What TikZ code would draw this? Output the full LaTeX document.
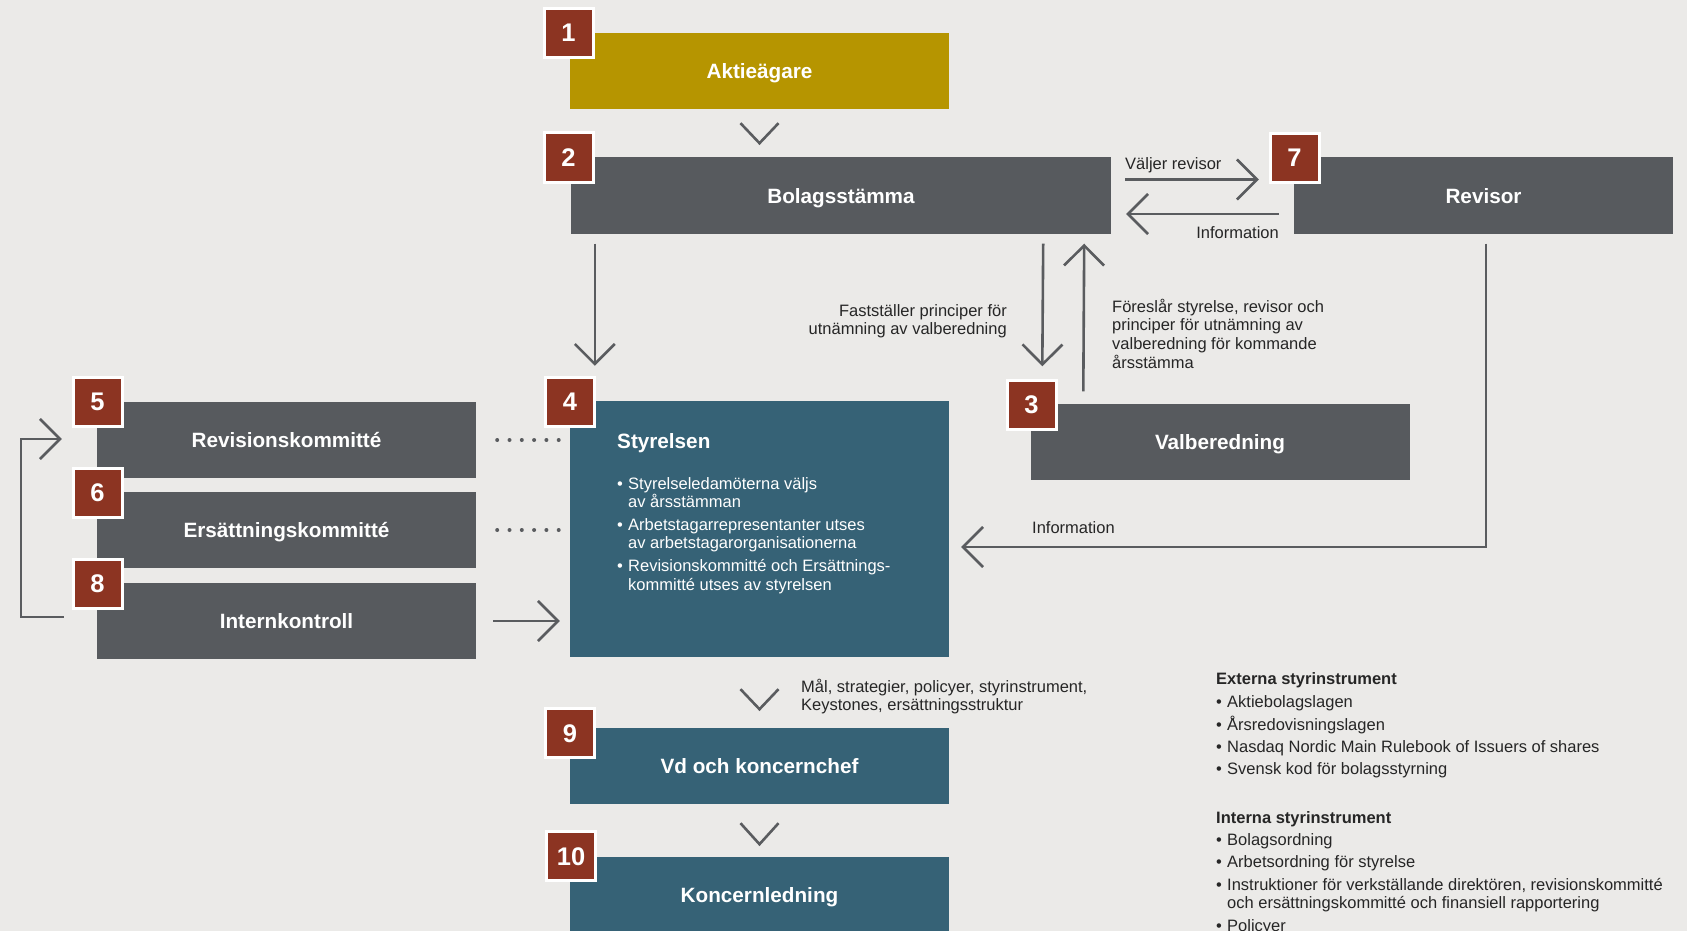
\documentclass[tikz,border=0pt]{standalone}
\usepackage{fontspec}
\setmainfont{Liberation Sans}
\usetikzlibrary{arrows.meta,calc}
\definecolor{bg}{HTML}{EBEAE8}
\definecolor{gold}{HTML}{B69500}
\definecolor{dgrey}{HTML}{575A5E}
\definecolor{tealbox}{HTML}{366276}
\definecolor{badgered}{HTML}{8C3422}
\definecolor{linecol}{HTML}{5A5C5F}
\definecolor{txt}{HTML}{262626}
\newcommand\mybul{\makebox[11pt][l]{•}}
\begin{document}
\begin{tikzpicture}[x=1pt,y=-1pt,
  box/.style={inner sep=0pt, minimum width=379pt, minimum height=76pt, text=white,
    font=\fontsize{20.7}{24}\selectfont\bfseries, text height=15pt, text depth=0pt},
  badge/.style={fill=badgered, draw=white, line width=3pt, minimum size=49pt, inner sep=0pt,
    text=white, font=\fontsize{25.5}{28}\selectfont\bfseries, text height=18pt, text depth=0pt},
  conn/.style={draw=linecol, line width=2.6pt},
  arr/.style={conn, -{Straight Barb[length=20pt,width=40pt]}},
  lbl/.style={inner sep=0pt, text=txt, font=\fontsize{16.5}{18.7}\selectfont},
  dots/.style={draw=linecol, line width=4pt, line cap=round, dash pattern=on 0pt off 12.3pt},
]
\fill[bg] (0,0) rectangle (1687,931);
\useasboundingbox (0,0) rectangle (1687,931);

% boxes
\node[box, fill=gold] (akt) at (759.5,71) {Aktieägare};
\node[box, fill=dgrey, minimum width=540pt] (bol) at (841,195.5) {Bolagsstämma};
\node[box, fill=dgrey] (revi) at (1483.5,195.5) {Revisor};
\node[box, fill=dgrey] (val) at (1220,441.5) {Valberedning};
\node[box, fill=tealbox, minimum height=256pt] (sty) at (759.5,529) {};
\node[box, fill=dgrey] (revk) at (286.5,440) {Revisionskommitté};
\node[box, fill=dgrey] (ers) at (286.5,530) {Ersättningskommitté};
\node[box, fill=dgrey] (int) at (286.5,621) {Internkontroll};
\node[box, fill=tealbox] (vd) at (759.5,766) {Vd och koncernchef};
\node[box, fill=tealbox] (kl) at (759.5,895) {Koncernledning};

% Styrelsen content
\node[anchor=base west, inner sep=0pt, text=white, font=\fontsize{20.7}{24}\selectfont\bfseries] (stytitle) at (617,448.5) {Styrelsen};
\node[lbl, text=white, anchor=base west] (stylist) at (617,489) {\parbox[t]{320pt}{\raggedright
\mybul Styrelseledamöterna väljs\\\hspace*{11pt}av årsstämman\\[3.8pt]
\mybul Arbetstagarrepresentanter utses\\\hspace*{11pt}av arbetstagarorganisationerna\\[3.8pt]
\mybul Revisionskommitté och Ersättnings-\\\hspace*{11pt}kommitté utses av styrelsen}};

% badges
\node[badge] (b1) at (568.5,33) {1};
\node[badge] (b2) at (568.5,157.5) {2};
\node[badge] (b7) at (1294.5,158) {7};
\node[badge] (b3) at (1031.5,404.5) {3};
\node[badge] (b4) at (570,401.5) {4};
\node[badge] (b5) at (97.5,401.5) {5};
\node[badge] (b6) at (97.5,492.5) {6};
\node[badge] (b8) at (97.5,583.5) {8};
\node[badge] (b9) at (570,733) {9};
\node[badge] (b10) at (571,856) {10};

% chevrons
\draw[conn] ($(akt.south)+(-19,14)$) -- ($(akt.south)+(0,34)$) -- ($(akt.south)+(19,14)$);
\draw[conn] ($(sty.south)+(-19,32)$) -- ($(sty.south)+(0,52)$) -- ($(sty.south)+(19,32)$);
\draw[conn] ($(vd.south)+(-19,19)$) -- ($(vd.south)+(0,40)$) -- ($(vd.south)+(19,19)$);

% arrows
\draw[arr] ($(bol.south west)+(24,10)$) -- ($(sty.north west)+(25,-35)$);
\draw[arr] ($(bol.south east)+(-68,10)$) -- ($(val.north west)+(12,-37)$);
\draw[arr] ($(val.north west)+(53,-12)$) -- ($(bol.south east)+(-27,10)$);
\draw[arr] ($(bol.east)+(14,-16)$) -- ($(revi.west)+(-35,-16)$);
\draw[arr] ($(revi.west)+(-15,18.5)$) -- ($(bol.east)+(15,18.5)$);
\draw[arr] ($(revi.south)+(2.5,10)$) |- ($(sty.east)+(12,18)$);
\draw[arr] ($(int.east)+(17,0)$) -- ($(sty.west |- int.east)+(-10,0)$);
\draw[arr] ($(int.west)+(-33,-4)$) -- ++(-43,0) |- ($(revk.west)+(-35,-1)$);
\draw[dots] ($(revk.east)+(21,0)$) -- ($(sty.west |- revk.east)+(-11,0)$);
\draw[dots] ($(ers.east)+(21,0)$) -- ($(sty.west |- ers.east)+(-11,0)$);

% labels
\node[lbl, anchor=base west] (lvr) at (1125,169) {Väljer revisor};
\node[lbl, anchor=base east] (linf1) at (1279,238) {Information};
\node[lbl, anchor=base east] (lfast) at (1007,316) {\parbox[t]{250pt}{\raggedleft Fastställer principer för\\utnämning av valberedning}};
\node[lbl, anchor=base west] (lfor) at (1112,312) {\parbox[t]{260pt}{\raggedright Föreslår styrelse, revisor och\\principer för utnämning av\\valberedning för kommande\\årsstämma}};
\node[lbl, anchor=base west] (linf2) at (1032,533) {Information};
\node[lbl, anchor=base west] (lmal) at (801,692) {\parbox[t]{320pt}{\raggedright Mål, strategier, policyer, styrinstrument,\\Keystones, ersättningsstruktur}};

% instruments
\node[lbl, anchor=base west] (instr) at (1216,684) {\parbox[t]{460pt}{\raggedright
\textbf{Externa styrinstrument}\\[5pt]
\mybul Aktiebolagslagen\\[3.6pt]
\mybul Årsredovisningslagen\\[3.6pt]
\mybul Nasdaq Nordic Main Rulebook of Issuers of shares\\[3.6pt]
\mybul Svensk kod för bolagsstyrning\\[30pt]
\textbf{Interna styrinstrument}\\[3.6pt]
\mybul Bolagsordning\\[3.6pt]
\mybul Arbetsordning för styrelse\\[3.6pt]
\mybul Instruktioner för verkställande direktören, revisionskommitté\\\hspace*{11pt}och ersättningskommitté och finansiell rapportering\\[3.6pt]
\mybul Policyer}};
\end{tikzpicture}
\end{document}
